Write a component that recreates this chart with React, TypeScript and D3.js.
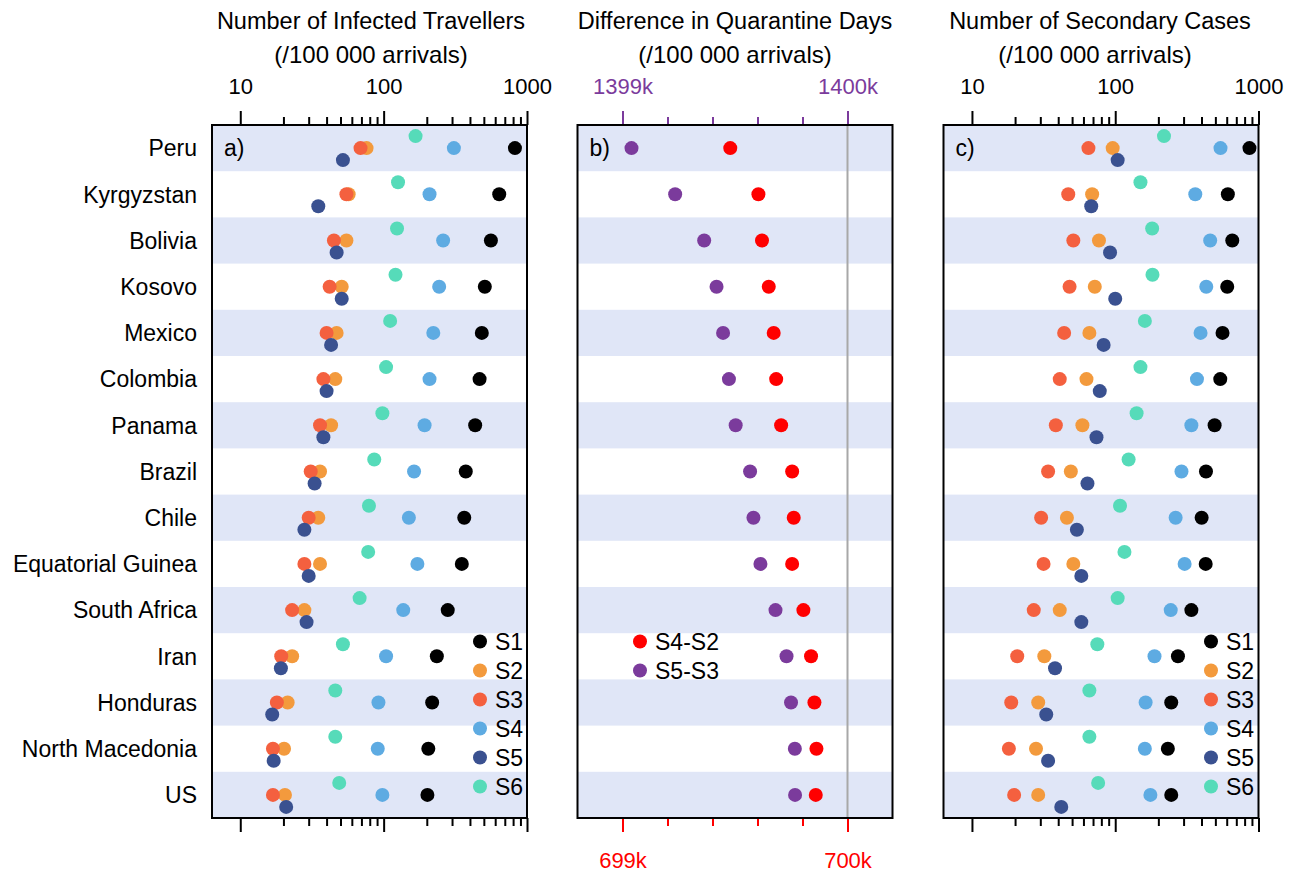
import React, { useEffect, useRef } from 'react';
import * as d3 from 'd3';

const countries = [
  'Peru', 'Kyrgyzstan', 'Bolivia', 'Kosovo', 'Mexico', 'Colombia', 'Panama', 'Brazil',
  'Chile', 'Equatorial Guinea', 'South Africa', 'Iran', 'Honduras', 'North Macedonia', 'US',
];

const seriesNames = ['S1', 'S2', 'S3', 'S4', 'S5', 'S6'];
const seriesColors = ['#000000', '#f39a3d', '#f4603f', '#5eabe2', '#3a5190', '#56dbb9'];

// panel a: infected travellers per 100 000 arrivals
const travS1 = [824, 640, 560, 508, 484, 467, 435, 374, 365, 351, 280, 235, 218, 205, 202];
const travS2 = [76, 57, 55, 51, 47, 46, 43, 36, 35, 36, 28, 23, 21.4, 20.2, 20.5];
const travS3 = [69, 55, 45, 42, 40, 38, 36, 31, 30, 28, 23, 19.3, 18, 16.9, 16.9];
const travS4 = [309, 209, 260, 244, 222, 209, 193, 163, 150, 172, 137, 104, 92, 91, 98];
const travS5 = [52, 35, 47, 51, 43, 40, 38, 33, 28, 30, 29, 19.2, 16.7, 17.1, 20.9];
const travS6 = [167, 126, 124, 121, 111, 104, 98, 86, 79, 78, 68, 52, 46, 46, 49];

// panel b: difference in quarantine days (thousands)
const diffS4S2 = [699.479, 699.604, 699.62, 699.65, 699.672, 699.683, 699.705, 699.754, 699.761, 699.754, 699.804, 699.838, 699.853, 699.862, 699.859];
const diffS5S3 = [1399.04, 1399.234, 1399.363, 1399.418, 1399.447, 1399.473, 1399.503, 1399.567, 1399.582, 1399.613, 1399.68, 1399.729, 1399.749, 1399.766, 1399.767];

// panel c: secondary cases per 100 000 arrivals
const secS1 = [865, 611, 656, 605, 561, 541, 494, 430, 401, 428, 340, 274, 246, 233, 246];
const secS2 = [96, 69, 77, 72, 66, 63, 59, 49, 46, 51, 41, 32, 29, 28, 29];
const secS3 = [65, 47, 51, 48, 44, 41, 38.5, 34, 30.4, 31.6, 27, 20.7, 18.8, 18.1, 19.7];
const secS4 = [543, 362, 460, 432, 394, 372, 340, 290, 264, 305, 244, 188, 163, 161, 176];
const secS5 = [104, 68, 92, 100, 83, 78, 74, 64, 54, 58, 58, 38, 33, 34, 42];
const secS6 = [219, 150, 181, 182, 161, 150, 141, 124, 108, 116, 104, 75, 66, 66, 76];

const logMajor = [10, 100, 1000];
const logMinor = [20, 30, 40, 50, 60, 70, 80, 90, 200, 300, 400, 500, 600, 700, 800, 900];
const purpleMajor = [1399, 1400];
const purpleMinor = [1399.2, 1399.4, 1399.6, 1399.8];
const redMajor = [699, 700];
const redMinor = [699.2, 699.4, 699.6, 699.8];

const W = 1294;
const H = 875;
const TOP = 125;
const BOTTOM = 818;
const FONT = '"Liberation Sans", Arial, sans-serif';
const RED = '#ff0000';
const PURPLE = '#7b3b9c';

const App: React.FC = () => {
  const svgRef = useRef<SVGSVGElement>(null);

  useEffect(() => {
    if (!svgRef.current) return;
    const svg = d3.select(svgRef.current);
    svg.selectAll('*').remove();

    const y = d3.scaleBand<string>().domain(countries).range([TOP, BOTTOM]).padding(0);
    const bw = y.bandwidth();
    const offsets = [0, 0, 0, 0, 0.26, -0.26];

    const panels = [
      { key: 'a', left: 212, right: 527, title: 'Number of Infected Travellers', tx: 371 },
      { key: 'b', left: 577.5, right: 892.5, title: 'Difference in Quarantine Days', tx: 735 },
      { key: 'c', left: 943.5, right: 1258.5, title: 'Number of Secondary Cases', tx: 1100 },
    ];

    const xA = d3.scaleLog().domain([6.35, 1000]).range([panels[0].left, panels[0].right]);
    const xC = d3.scaleLog().domain([6.33, 1000]).range([panels[2].left, panels[2].right]);
    const xP = d3.scaleLinear().domain([1398.8, 1400.2]).range([panels[1].left, panels[1].right]);
    const xR = d3.scaleLinear().domain([698.8, 700.2]).range([panels[1].left, panels[1].right]);

    // background bands
    panels.forEach(p => {
      svg.append('g').selectAll('rect')
        .data(countries.filter((_, i) => i % 2 === 0))
        .join('rect')
        .attr('x', p.left).attr('width', p.right - p.left)
        .attr('y', d => y(d)!).attr('height', bw)
        .attr('fill', '#e0e6f7');
    });

    // titles
    panels.forEach(p => {
      svg.append('text').attr('x', p.tx).attr('y', 29).attr('text-anchor', 'middle')
        .attr('font-family', FONT).attr('font-size', 23.5).attr('fill', '#000').text(p.title);
      svg.append('text').attr('x', p.key === 'c' ? 1095 : p.tx).attr('y', 63).attr('text-anchor', 'middle')
        .attr('font-family', FONT).attr('font-size', 24).attr('fill', '#000').text('(/100 000 arrivals)');
    });

    // grey reference line in panel b
    svg.append('line')
      .attr('x1', xP(1400)).attr('x2', xP(1400)).attr('y1', TOP).attr('y2', BOTTOM)
      .attr('stroke', '#a8a8a8').attr('stroke-width', 2);

    const styleAxis = (g: d3.Selection<SVGGElement, unknown, null, undefined>, color: string) => {
      g.select('.domain').remove();
      g.selectAll('.tick line').attr('stroke', color).attr('stroke-width', 2);
      g.selectAll('.tick text').attr('fill', color).attr('font-family', FONT).attr('font-size', 22);
    };

    const drawAxes = (scale: any, major: number[], minor: number[], fmt: (d: number) => string,
      color: string, side: 'top' | 'bottom', labels: boolean) => {
      const yPos = side === 'top' ? TOP : BOTTOM;
      const mk = side === 'top' ? d3.axisTop : d3.axisBottom;
      const gMin = svg.append('g').attr('transform', `translate(0,${yPos})`)
        .call(mk(scale).tickValues(minor).tickSize(8).tickFormat(() => ''));
      styleAxis(gMin, color);
      const gMaj = svg.append('g').attr('transform', `translate(0,${yPos})`)
        .call(mk(scale).tickValues(major).tickSize(14).tickPadding(side === 'top' ? 17 : 20)
          .tickFormat(labels ? (d: any) => fmt(d) : () => ''));
      styleAxis(gMaj, color);
    };

    const fmtLog = (d: number) => String(d);
    drawAxes(xA, logMajor, logMinor, fmtLog, '#000', 'top', true);
    drawAxes(xA, logMajor, logMinor, fmtLog, '#000', 'bottom', false);
    drawAxes(xC, logMajor, logMinor, fmtLog, '#000', 'top', true);
    drawAxes(xC, logMajor, logMinor, fmtLog, '#000', 'bottom', false);
    drawAxes(xP, purpleMajor, purpleMinor, d => `${d}k`, PURPLE, 'top', true);
    drawAxes(xR, redMajor, redMinor, d => `${d}k`, RED, 'bottom', true);

    // country labels
    svg.append('g').selectAll('text')
      .data(countries)
      .join('text')
      .attr('x', 197).attr('y', d => y(d)! + bw / 2).attr('dy', '0.36em')
      .attr('text-anchor', 'end').attr('font-family', FONT).attr('font-size', 23)
      .attr('fill', '#000').text(d => d);

    const R = 7;
    const drawDots = (scale: any, series: number[][]) => {
      series.forEach((vals, s) => {
        svg.append('g').selectAll('circle')
          .data(vals)
          .join('circle')
          .attr('cx', d => scale(d))
          .attr('cy', (_, i) => y(countries[i])! + bw / 2 + offsets[s] * bw)
          .attr('r', R)
          .attr('fill', seriesColors[s]);
      });
    };

    drawDots(xA, [travS1, travS2, travS3, travS4, travS5, travS6]);
    drawDots(xC, [secS1, secS2, secS3, secS4, secS5, secS6]);

    // panel b dots
    svg.append('g').selectAll('circle')
      .data(diffS5S3).join('circle')
      .attr('cx', d => xP(d)).attr('cy', (_, i) => y(countries[i])! + bw / 2)
      .attr('r', R).attr('fill', PURPLE);
    svg.append('g').selectAll('circle')
      .data(diffS4S2).join('circle')
      .attr('cx', d => xR(d)).attr('cy', (_, i) => y(countries[i])! + bw / 2)
      .attr('r', R).attr('fill', RED);

    // frames
    panels.forEach(p => {
      svg.append('rect')
        .attr('x', p.left).attr('y', TOP).attr('width', p.right - p.left).attr('height', BOTTOM - TOP)
        .attr('fill', 'none').attr('stroke', '#000').attr('stroke-width', 2);
      svg.append('text')
        .attr('x', p.left + 12).attr('y', y(countries[0])! + bw / 2).attr('dy', '0.35em')
        .attr('font-family', FONT).attr('font-size', 23).attr('fill', '#000').text(`${p.key})`);
    });

    // legends for a and c
    const legendY = d3.scaleBand<string>().domain(seriesNames).range([627, 801]);
    [{ x: 480 }, { x: 1211 }].forEach(l => {
      const g = svg.append('g');
      g.selectAll('circle').data(seriesNames).join('circle')
        .attr('cx', l.x).attr('cy', d => legendY(d)! + legendY.bandwidth() / 2)
        .attr('r', R).attr('fill', (_, i) => seriesColors[i]);
      g.selectAll('text').data(seriesNames).join('text')
        .attr('x', l.x + 15).attr('y', d => legendY(d)! + legendY.bandwidth() / 2).attr('dy', '0.36em')
        .attr('font-family', FONT).attr('font-size', 23).attr('fill', '#000').text(d => d);
    });

    // legend for b
    const bLegend = [{ name: 'S4-S2', color: RED }, { name: 'S5-S3', color: PURPLE }];
    const legendB = d3.scaleBand<string>().domain(bLegend.map(d => d.name)).range([627, 685]);
    const gb = svg.append('g');
    gb.selectAll('circle').data(bLegend).join('circle')
      .attr('cx', 640).attr('cy', d => legendB(d.name)! + legendB.bandwidth() / 2)
      .attr('r', R).attr('fill', d => d.color);
    gb.selectAll('text').data(bLegend).join('text')
      .attr('x', 655).attr('y', d => legendB(d.name)! + legendB.bandwidth() / 2).attr('dy', '0.36em')
      .attr('font-family', FONT).attr('font-size', 23).attr('fill', '#000').text(d => d.name);
  }, []);

  return (
    <svg ref={svgRef} width={W} height={H} viewBox={`0 0 ${W} ${H}`}
      style={{ position: 'absolute', left: 0, top: 0, background: '#fff', display: 'block' }} />
  );
};

export default App;
